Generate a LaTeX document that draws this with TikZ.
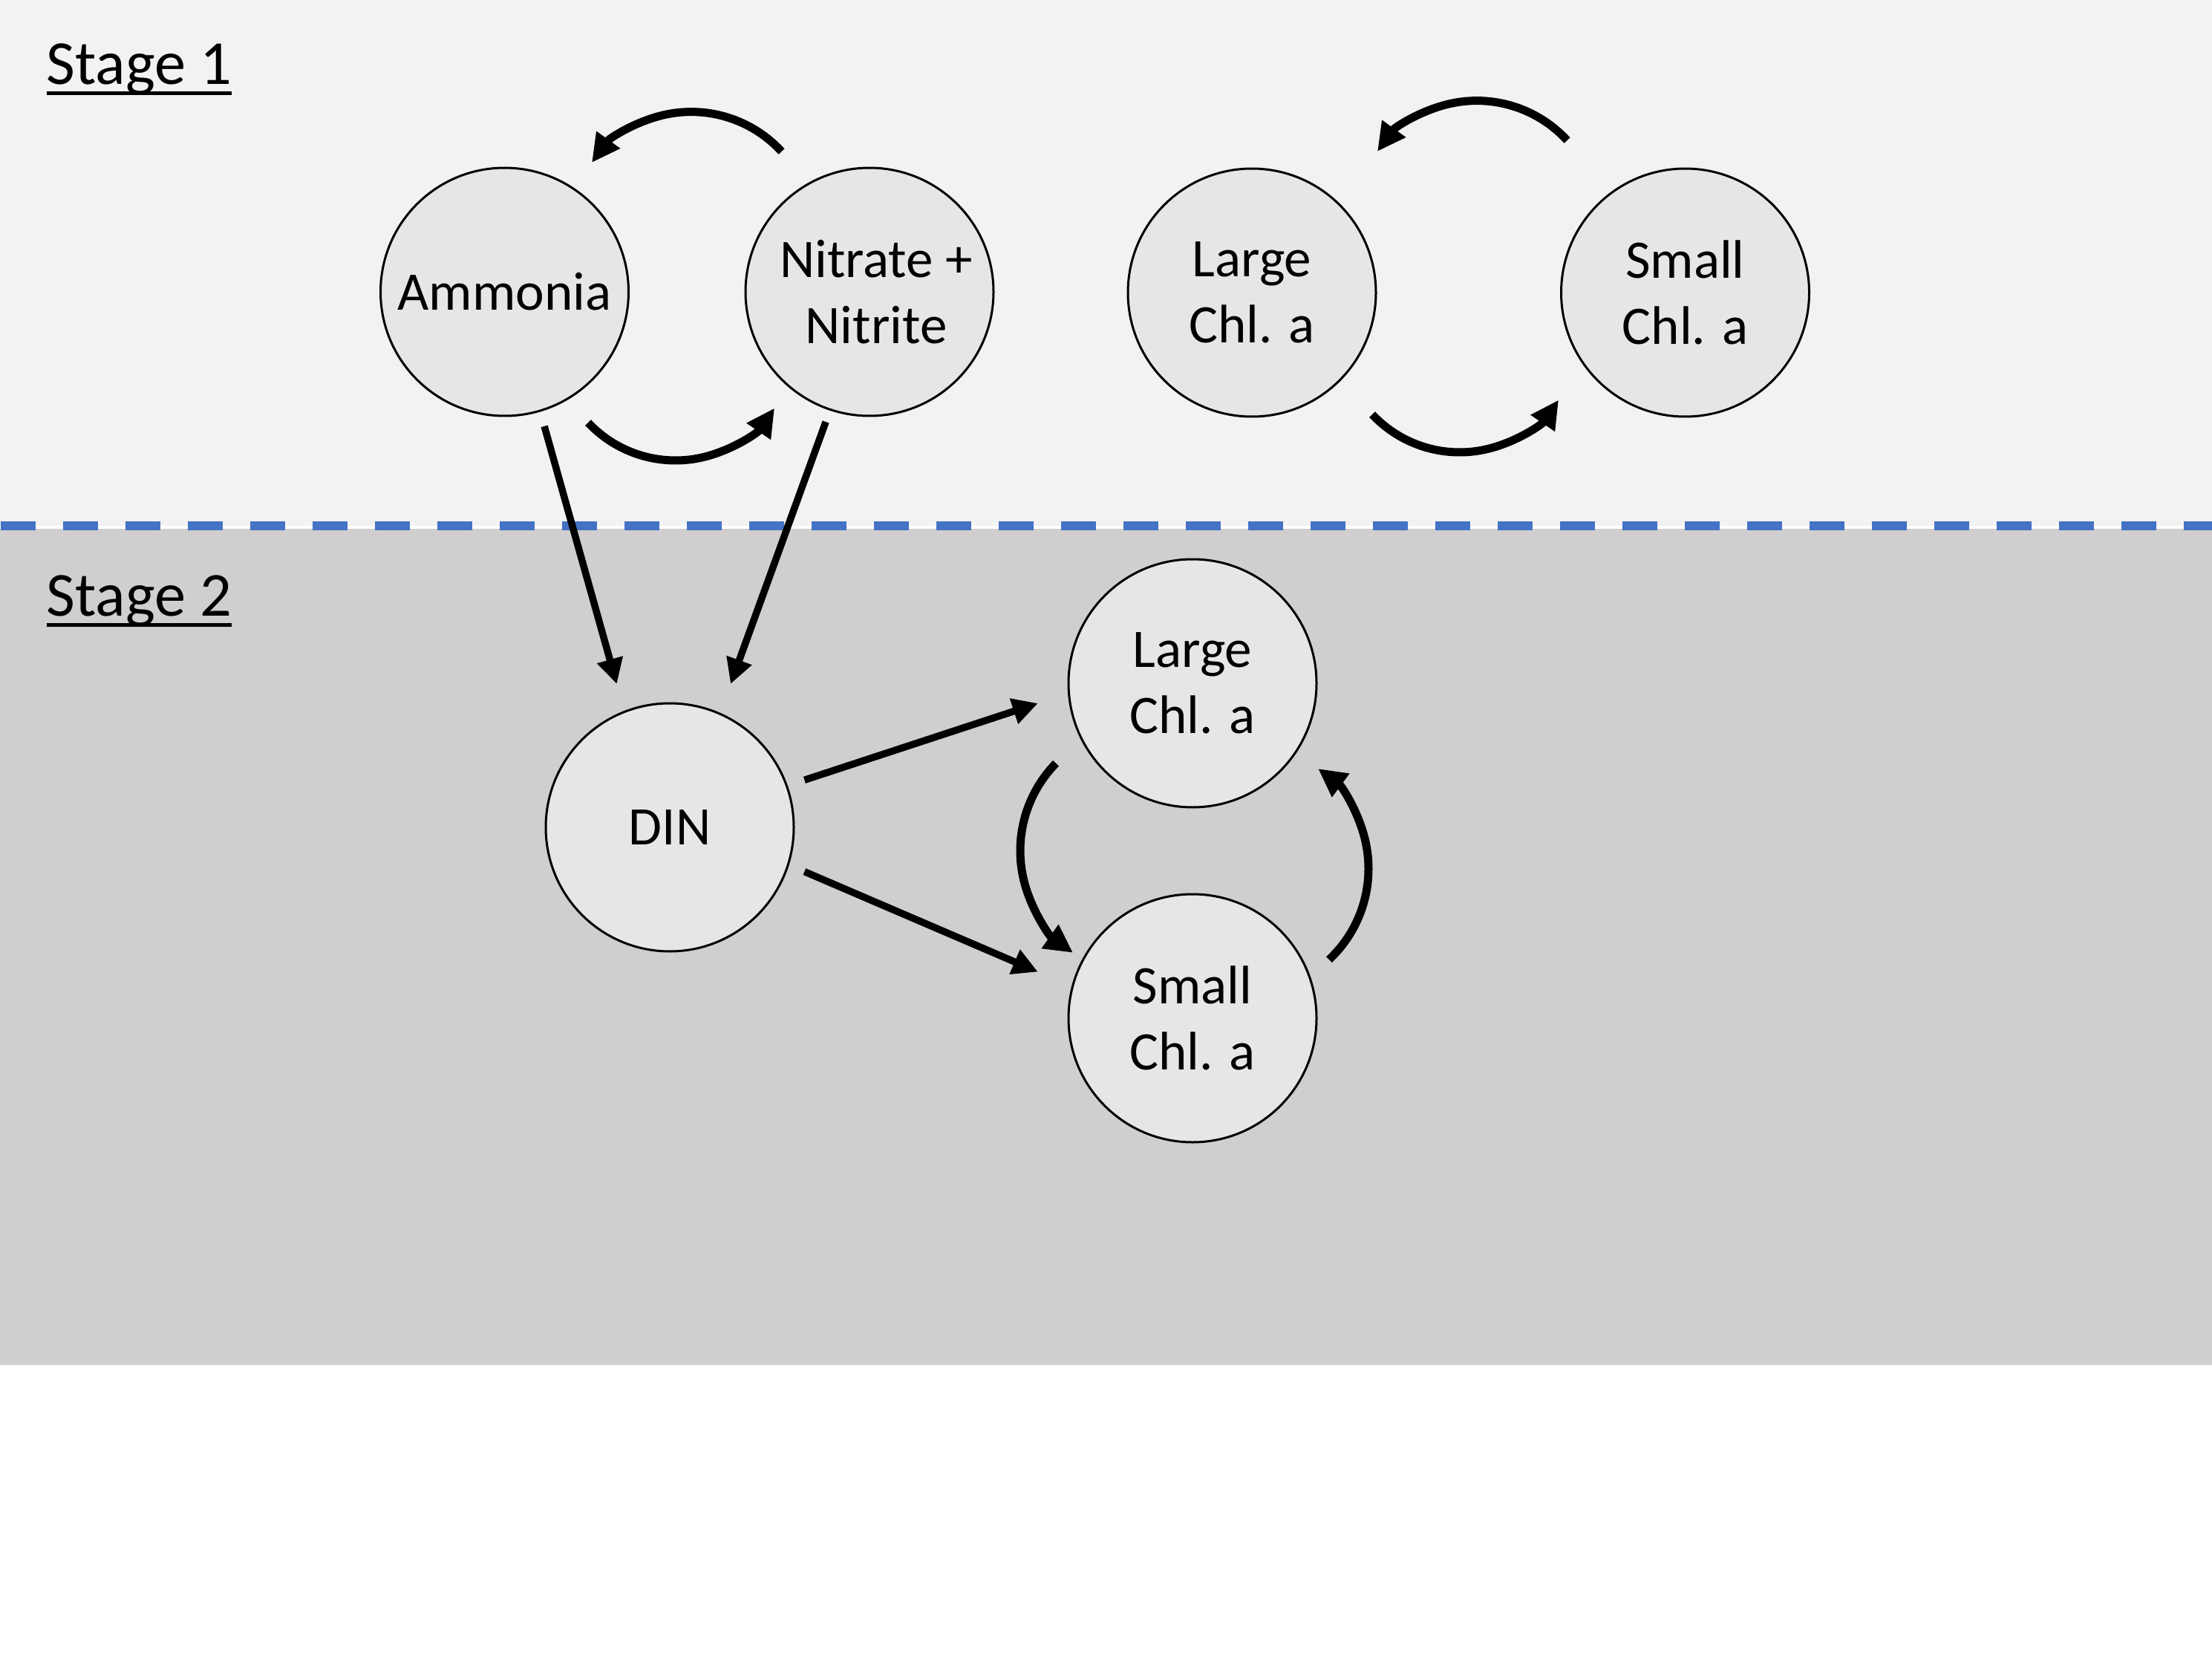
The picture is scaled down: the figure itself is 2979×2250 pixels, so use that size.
\documentclass[tikz,border=0pt]{standalone}
\usepackage{fontspec}
\setmainfont{Carlito}
\usetikzlibrary{arrows.meta,calc}
\definecolor{bandtop}{HTML}{F2F2F2}
\definecolor{bandlow}{HTML}{D0CECE}
\definecolor{nodefill}{HTML}{E7E6E6}
\definecolor{dashblue}{HTML}{4472C4}
\newcommand\stagelabel[1]{\setbox0\hbox{#1}\rlap{\usebox0}\rule[-1.45mm]{\wd0}{0.5mm}}
\tikzset{
  pool/.style={circle, draw=black, line width=0.3mm, fill=nodefill, minimum size=33.4mm,
    inner sep=0pt, align=center, font=\fontsize{20.8}{25.3}\selectfont},
  stagetext/.style={anchor=base west, inner sep=0pt, font=\fontsize{24}{29}\selectfont},
  arr/.style={line width=0.95mm, -{Triangle[length=3.4mm,width=3.4mm]}},
  carr/.style={line width=1.1mm, -{Triangle[length=3.8mm,width=3.7mm]}}
}
\begin{document}
\begin{tikzpicture}[x=0.1mm,y=0.1mm]
\useasboundingbox (0,0) rectangle (2979,-2250);
\fill[white] (0,0) rectangle (2979,-2250);
\fill[bandtop] (0,0) rectangle (2979,-708);
\fill[bandlow] (0,-712) rectangle (2979,-1838);
\draw[dashblue, line width=1.2mm, dash pattern=on 4.7mm off 3.7mm] (1,-708) -- (2979,-708);

\node[stagetext] (s1) at (62,-114) {\stagelabel{Stage 1}};
\node[stagetext] (s2) at (62,-829) {\stagelabel{Stage 2}};

\node[pool] (amm) at (679.5,-393) {Ammonia};
\node[pool] (nit) at (1171,-393) {\hspace*{1.8mm}Nitrate +\\\hspace*{1.8mm}Nitrite};
\node[pool] (lch1) at (1686,-394) {Large\\Chl. a};
\node[pool] (sch1) at (2269.5,-394) {Small\\Chl. a};
\node[pool] (din) at (902,-1114) {DIN};
\node[pool] (lch2) at (1606,-920) {Large\\Chl. a};
\node[pool] (sch2) at (1606,-1371) {Small\\Chl. a};

% stage 1 loops
\draw[carr] ($(amm)!0.5!(nit)+(5.65,77.1)+(42.6:16.53mm)$) arc[start angle=42.6, end angle=144.1, radius=16.53mm];
\draw[carr] ($(amm)!0.5!(nit)+(-15.55,-65.6)+(223.2:16.14mm)$) arc[start angle=223.2, end angle=325.7, radius=16.14mm];
\draw[carr] ($(lch1)!0.5!(sch1)+(11.15,93.1)+(42.6:16.53mm)$) arc[start angle=42.6, end angle=144.1, radius=16.53mm];
\draw[carr] ($(lch1)!0.5!(sch1)+(-12.05,-53.6)+(223.2:16.14mm)$) arc[start angle=223.2, end angle=325.7, radius=16.14mm];

% straight arrows
\draw[arr] ($(amm)+(-73.5:18.87mm)$) -- ($(din)+(110.3:20.58mm)$);
\draw[arr] ($(nit)+(-108.6:18.47mm)$) -- ($(din)+(67:20.97mm)$);
\draw[arr] ($(din)+(19.35:19.23mm)$) -- ($(lch2)+(187.4:21mm)$);
\draw[arr] ($(din)+(-18.2:19.1mm)$) -- ($(sch2)+(163.3:21.74mm)$);

% stage 2 loop
\draw[carr] ($(lch2)!0.5!(sch2)+(-63.7,0)+(135.6:16.83mm)$) arc[start angle=135.6, end angle=234.7, radius=16.83mm];
\draw[carr] ($(lch2)!0.5!(sch2)+(69.4,-24.2)+(-46.9:16.76mm)$) arc[start angle=-46.9, end angle=53.5, radius=16.76mm];
\end{tikzpicture}
\end{document}
